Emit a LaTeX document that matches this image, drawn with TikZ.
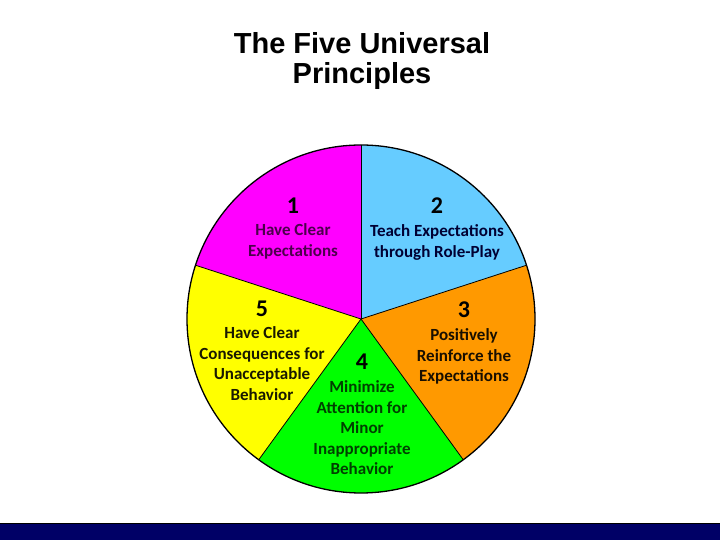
\documentclass[tikz,border=0pt]{standalone}
\usepackage{fontspec}
\setmainfont{Carlito}
\newfontfamily\titelfont{Liberation Sans}

% Segmentfarben
\definecolor{segMagenta}{HTML}{FF00FF}
\definecolor{segBlau}{HTML}{66CCFF}
\definecolor{segOrange}{HTML}{FF9900}
\definecolor{segGruen}{HTML}{00FF00}
\definecolor{segGelb}{HTML}{FFFF00}
\definecolor{balken}{HTML}{000066}

\begin{document}
\begin{tikzpicture}[
    x=1pt, y=1pt,
    every node/.style={inner sep=0pt},
    titel/.style={font=\titelfont\fontsize{29}{30}\selectfont\bfseries, anchor=base},
    zahl/.style={font=\fontsize{24}{28}\selectfont\bfseries, anchor=base},
    segtext/.style={font=\fontsize{17}{20.5}\selectfont\bfseries, align=center, anchor=base}
]

% --- Seite 720 x 540 (1pt = 1px), Ursprung unten links ---
\useasboundingbox (0,0) rectangle (720,540);
\fill[white] (0,0) rectangle (720,540);

% --- Balken unten ---
\fill[balken] (0,0) rectangle (720,17);
\draw[black, line width=0.8pt] (0,17) -- (720,17);

% --- Titel ---
\node[titel] (titelA) at (362,486) {The Five Universal};
\node[titel] (titelB) at (362,456) {Principles};

% --- Kreis: Mittelpunkt (361,221), Radius 174 ---
\coordinate (mitte) at (361,221);

% --- Segmente (je 72 Grad) ---
\fill[segMagenta] (mitte) -- ++(90:174)  arc[start angle=90,   end angle=162, radius=174] -- cycle;
\fill[segBlau]    (mitte) -- ++(18:174)  arc[start angle=18,   end angle=90,  radius=174] -- cycle;
\fill[segOrange]  (mitte) -- ++(-54:174) arc[start angle=-54,  end angle=18,  radius=174] -- cycle;
\fill[segGruen]   (mitte) -- ++(-126:174) arc[start angle=-126, end angle=-54, radius=174] -- cycle;
\fill[segGelb]    (mitte) -- ++(162:174) arc[start angle=162,  end angle=234, radius=174] -- cycle;

% --- Trennlinien ---
\draw[black, line width=0.8pt] (mitte) -- ++(90:174);
\draw[black, line width=0.8pt] (mitte) -- ++(18:174);
\draw[black, line width=0.8pt] (mitte) -- ++(-54:174);
\draw[black, line width=0.8pt] (mitte) -- ++(-126:174);
\draw[black, line width=0.8pt] (mitte) -- ++(162:174);

% --- Kreisrand ---
\draw[black, line width=1.3pt] (mitte) circle[radius=174];

% --- Segment 1 (anchor=base liegt auf der letzten Zeile) ---
\node[zahl] (num1) at (293,326) {1};
\node[segtext, text=black!70!segMagenta] (txt1) at (293,283.5) {Have Clear\\Expectations};

% --- Segment 2 ---
\node[zahl] (num2) at (437,326) {2};
\node[segtext, text=black!80!blue] (txt2) at (437,282.5) {Teach Expectations\\through Role-Play};

% --- Segment 3 ---
\node[zahl] (num3) at (464,222) {3};
\node[segtext, text=black!90!segOrange] (txt3) at (464,158) {Positively\\Reinforce the\\Expectations};

% --- Segment 4 ---
\node[zahl] (num4) at (362,170) {4};
\node[segtext, text=black!75!segGruen] (txt4) at (362,65) {Minimize\\Attention for\\Minor\\Inappropriate\\Behavior};

% --- Segment 5 ---
\node[zahl] (num5) at (262,223) {5};
\node[segtext, text=black!90!segGelb] (txt5) at (262,139.5) {Have Clear\\Consequences for\\Unacceptable\\Behavior};

\end{tikzpicture}
\end{document}
